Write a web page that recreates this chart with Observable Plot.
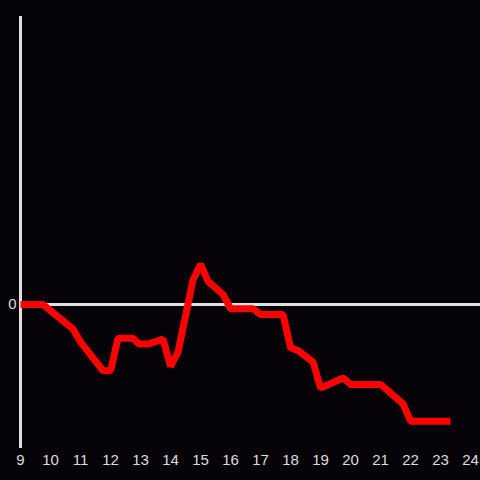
<!DOCTYPE html>
<html>
<head>
<meta charset="utf-8">
<script src="https://cdn.jsdelivr.net/npm/d3@7"></script>
<script src="https://cdn.jsdelivr.net/npm/@observablehq/plot@0.6"></script>
<style>
  html, body { margin: 0; padding: 0; background: #050308; }
  #chart { width: 480px; height: 480px; }
</style>
</head>
<body>
<div id="chart"></div>
<script>
const hours = [9, 9.75, 10.75, 11, 11.75, 12, 12.25, 12.75, 12.95, 13.25, 13.75, 14, 14.25, 14.75, 15, 15.25, 15.75, 16, 16.75, 17, 17.75, 18, 18.25, 18.75, 19, 19.75, 20, 21, 21.75, 22, 23.33];
const values = [0, 0, -17, -26, -46, -46, -23.5, -23.5, -27.5, -27.5, -24, -43, -33, 17, 28, 16, 7, -3, -3, -7, -7, -30, -32, -40, -58, -51, -55.5, -55.5, -69, -81, -81];
const xTicks = [9, 10, 11, 12, 13, 14, 15, 16, 17, 18, 19, 20, 21, 22, 23, 24];
const yTicks = [0];

const data = hours.map((h, i) => ({hour: h, value: values[i]}));

const chart = Plot.plot({
  width: 480,
  height: 480,
  marginLeft: 20,
  marginRight: 0,
  marginTop: 16,
  marginBottom: 32,
  style: {background: "#050308", color: "#dddddd", fontFamily: "Liberation Sans, Arial, sans-serif", fontSize: "15px"},
  x: {domain: [9, 24.33], label: null},
  y: {domain: [-100, 200], label: null},
  marks: [
    Plot.axisX(xTicks, {tickSize: 0, tickPadding: 6, fontSize: 15, tickFormat: d => String(d), fill: "#dddddd"}),
    Plot.axisY(yTicks, {tickSize: 0, tickPadding: 4, fontSize: 15, fill: "#dddddd"}),
    Plot.ruleY([0], {stroke: "#e0e0e0", strokeWidth: 3}),
    Plot.ruleX([9], {stroke: "#e0e0e0", strokeWidth: 3}),
    Plot.line(data, {x: "hour", y: "value", stroke: "#ff0000", strokeWidth: 7, strokeLinejoin: "miter", strokeLinecap: "butt"})
  ]
});
document.getElementById("chart").appendChild(chart);
</script>
</body>
</html>
